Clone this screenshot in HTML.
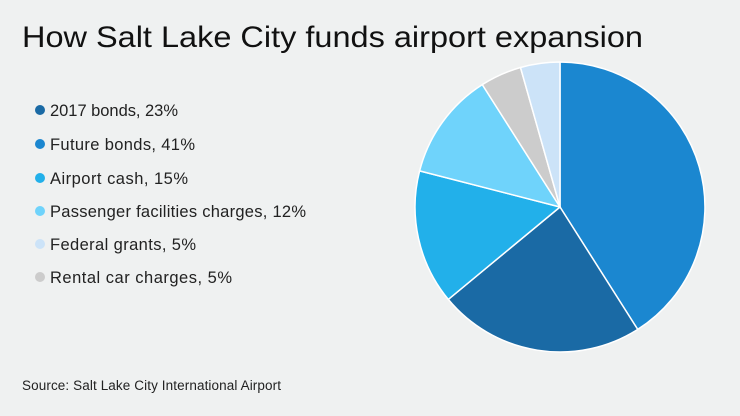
<!DOCTYPE html>
<html><head><style>
html,body{margin:0;padding:0;background:#eff1f1;}
svg{display:block;font-family:"Liberation Sans",Arial,sans-serif;}
</style></head><body>
<svg width="740" height="416" viewBox="0 0 740 416" xmlns="http://www.w3.org/2000/svg">
<rect width="740" height="416" fill="#eff1f1"/>
<text x="22" y="47" font-size="30" fill="#111" textLength="621" lengthAdjust="spacingAndGlyphs">How Salt Lake City funds airport expansion</text>
<g font-size="16.5" fill="#222">
<circle cx="40" cy="110" r="5" fill="#1a6aa5"/><text x="50" y="116" textLength="128">2017 bonds, 23%</text>
<circle cx="40" cy="144" r="5" fill="#1b87d0"/><text x="50" y="150" textLength="145">Future bonds, 41%</text>
<circle cx="40" cy="178" r="5" fill="#22b0ea"/><text x="50" y="184" textLength="138">Airport cash, 15%</text>
<circle cx="40" cy="211" r="5" fill="#6fd3fb"/><text x="50" y="217" textLength="256">Passenger facilities charges, 12%</text>
<circle cx="40" cy="244" r="5" fill="#cce3f8"/><text x="50" y="250" textLength="146">Federal grants, 5%</text>
<circle cx="40" cy="277" r="5" fill="#cccccc"/><text x="50" y="283" textLength="182">Rental car charges, 5%</text>
</g>
<g stroke="#fff" stroke-width="1.5" stroke-linejoin="round">
<path d="M560 207 L560 62 A145 145 0 0 1 637.7 329.4 Z" fill="#1b87d0"/>
<path d="M560 207 L637.7 329.4 A145 145 0 0 1 448.3 299.4 Z" fill="#1a6aa5"/>
<path d="M560 207 L448.3 299.4 A145 145 0 0 1 419.6 170.9 Z" fill="#22b0ea"/>
<path d="M560 207 L419.6 170.9 A145 145 0 0 1 482.3 84.6 Z" fill="#6fd3fb"/>
<path d="M560 207 L482.3 84.6 A145 145 0 0 1 520.5 67.5 Z" fill="#cccccc"/>
<path d="M560 207 L520.5 67.5 A145 145 0 0 1 560 62 Z" fill="#cce3f8"/>
</g>
<text x="22" y="390" font-size="13.5" fill="#222" textLength="259">Source: Salt Lake City International Airport</text>
</svg>
</body></html>
